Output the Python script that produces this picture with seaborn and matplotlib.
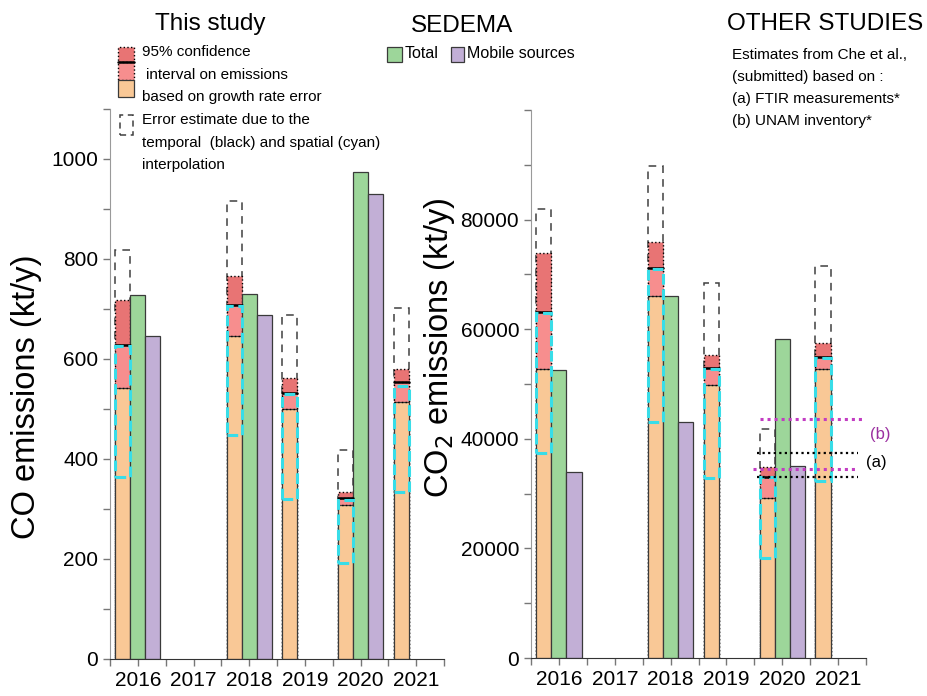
import numpy as np
import pandas as pd
import matplotlib
matplotlib.use("Agg")
import matplotlib.pyplot as plt
from matplotlib.patches import Rectangle
from matplotlib.ticker import MultipleLocator
import seaborn as sns

# ---- data -------------------------------------------------------------
study_years = [2016, 2018, 2019, 2020, 2021]
sedema_years = [2016, 2018, 2020]

# CO (kt/y) - this study
co_low = [542, 647, 500, 309, 515]          # lower bound of 95% CI
co_mid = [629, 709, 532, 323, 554]          # central estimate
co_high = [719, 766, 563, 335, 580]         # upper bound of 95% CI
co_temporal_high = [819, 916, 689, 418, 702]
co_spatial_low = [365, 448, 321, 193, 335]
co_spatial_high = [627, 707, 530, 319, 546]
# CO (kt/y) - SEDEMA inventory
co_total = [729, 730, 975]
co_mobile = [647, 689, 930]

# CO2 (kt/y) - this study
co2_low = [52700, 66000, 49750, 29200, 52700]
co2_mid = [63200, 71150, 53000, 33100, 54900]
co2_high = [73900, 75850, 55300, 34800, 57400]
co2_temporal_high = [82000, 89750, 68350, 41700, 71450]
co2_spatial_low = [37450, 43050, 32900, 18250, 32250]
co2_spatial_high = [63000, 71000, 52800, 33000, 54800]
# CO2 (kt/y) - SEDEMA inventory
co2_total = [52500, 66100, 58200]
co2_mobile = [33900, 43100, 35100]

# CO2 (kt/y) - Che et al. ranges
ftir_range = [33050, 37450]
unam_range = [34500, 43700]

year_labels = ["2016", "2017", "2018", "2019", "2020", "2021"]

# ---- style ------------------------------------------------------------
ORANGE = "#F9C896"
PINK = "#F78E8E"
RED = "#E87474"
GREEN = "#9DD69A"
PURPLE = "#C2AFD6"
CYAN = "#38DDE8"
MAGENTA = "#C23CC2"
LEVELS = ["This study", "Total", "Mobile sources"]
GROUP_W = 0.81
BW = GROUP_W / 3

sns.set_style("ticks")
plt.rcParams["font.family"] = ["Liberation Sans", "DejaVu Sans"]
plt.rcParams["text.color"] = "black"
plt.rcParams["axes.labelcolor"] = "black"

W, H = 928, 696
fig = plt.figure(figsize=(W / 100, H / 100), dpi=100)


def fx(px):
    return px / W


def fy(py):
    return 1 - py / H


def study_layer(ax, values, color, **kw):
    df = pd.DataFrame({"year": study_years, "value": values, "series": "This study"})
    sns.barplot(data=df, x="year", y="value", hue="series", hue_order=LEVELS,
                palette={"This study": color, "Total": GREEN, "Mobile sources": PURPLE},
                native_scale=True, width=GROUP_W, dodge=True, errorbar=None,
                saturation=1, legend=False, ax=ax, **kw)


def panel(ax, low, mid, high, t_high, s_low, s_high, total, mobile):
    # upper part of the CI (dark red), then pink down to the central value
    study_layer(ax, high, RED, edgecolor="black", linewidth=1.0, linestyle=":")
    study_layer(ax, mid, PINK, edgecolor="black", linewidth=1.0, linestyle=":")
    # growth-rate lower bound together with the SEDEMA inventory bars
    df = pd.concat([
        pd.DataFrame({"year": study_years, "value": low, "series": "This study"}),
        pd.DataFrame({"year": sedema_years, "value": total, "series": "Total"}),
        pd.DataFrame({"year": sedema_years, "value": mobile, "series": "Mobile sources"}),
    ], ignore_index=True)
    sns.barplot(data=df, x="year", y="value", hue="series", hue_order=LEVELS,
                palette={"This study": ORANGE, "Total": GREEN, "Mobile sources": PURPLE},
                native_scale=True, width=GROUP_W, dodge=True, errorbar=None,
                saturation=1, legend=False, ax=ax, edgecolor="#3a3a3a", linewidth=0.9)

    for yr, lo, m, th, sl, sh in zip(study_years, low, mid, t_high, s_low, s_high):
        x0 = yr - 1.5 * BW
        ax.plot([x0, x0 + BW], [lo, lo], color="black", lw=1.0, ls=":", zorder=3)
        ax.plot([x0, x0 + BW], [m, m], color="black", lw=1.8, zorder=3)
        # temporal interpolation error (black dashed box)
        ax.add_patch(Rectangle((x0, m), BW, th - m, fill=False, ec="#404040",
                               lw=1.1, ls=(0, (5, 4)), zorder=0.5))
        # spatial interpolation error (cyan dashed box)
        ax.add_patch(Rectangle((x0, sl), BW, sh - sl, fill=False, ec=CYAN,
                               lw=2.2, ls=(0, (3.5, 1.5)), zorder=4))

    ax.set_xlim(2015.5, 2021.5)
    ax.set_xticks(range(2016, 2022), labels=year_labels)
    ax.set_xticks(np.arange(2015.5, 2022, 1.0), minor=True)
    ax.set_xlabel("")
    for s in ("top", "right"):
        ax.spines[s].set_visible(False)
    ax.spines["left"].set_color("#9a9a9a")
    ax.spines["bottom"].set_color("#333333")
    ax.tick_params(which="both", direction="out", length=5, width=1, colors="#777777",
                   labelcolor="black", labelsize=15)


# ---- CO panel ---------------------------------------------------------
ax1 = fig.add_axes([fx(110), 37 / H, 334 / W, 550 / H])
panel(ax1, co_low, co_mid, co_high, co_temporal_high, co_spatial_low, co_spatial_high,
      co_total, co_mobile)
ax1.set_ylim(0, 1100)
ax1.set_yticks(range(0, 1001, 200))
ax1.yaxis.set_minor_locator(MultipleLocator(100))
ax1.set_ylabel("CO emissions (kt/y)", fontsize=23.5)
ax1.yaxis.set_label_coords(-0.205, 0.476)

# ---- CO2 panel --------------------------------------------------------
ax2 = fig.add_axes([fx(531), 38 / H, 335 / W, 548 / H])
panel(ax2, co2_low, co2_mid, co2_high, co2_temporal_high, co2_spatial_low, co2_spatial_high,
      co2_total, co2_mobile)
ax2.set_ylim(0, 100000)
ax2.set_yticks(range(0, 80001, 20000))
ax2.yaxis.set_minor_locator(MultipleLocator(10000))
ax2.set_ylabel("CO$_2$ emissions (kt/y)", fontsize=23.5)
ax2.yaxis.set_label_coords(-0.22, 0.566)

# Che et al. estimates
ax2.plot([2019.60, 2021.43], [unam_range[1]] * 2, color=MAGENTA, lw=2.2, ls=(0, (1, 1.3)), zorder=5)
ax2.plot([2019.48, 2021.32], [unam_range[0]] * 2, color=MAGENTA, lw=2.2, ls=(0, (1, 1.3)), zorder=5)
ax2.plot([2019.55, 2021.36], [ftir_range[1]] * 2, color="black", lw=1.6, ls=(0, (1, 1.5)), zorder=5)
ax2.plot([2019.55, 2021.36], [ftir_range[0]] * 2, color="black", lw=1.6, ls=(0, (1, 1.5)), zorder=5)
ax2.text(2021.57, 40800, "(b)", color="#9B2FA0", fontsize=12, va="center", ha="left")
ax2.text(2021.50, 35700, "(a)", color="black", fontsize=12, va="center", ha="left")

# ---- headers and legends ---------------------------------------------
fig.text(fx(210), fy(24), "This study", fontsize=17.5, ha="center", va="center")
fig.text(fx(462), fy(26), "SEDEMA", fontsize=17.5, ha="center", va="center")
fig.text(fx(825), fy(24), "OTHER STUDIES", fontsize=17.5, ha="center", va="center")

def fig_patch(x0, y0, x1, y1, **kw):
    fig.add_artist(Rectangle((fx(x0), fy(y1)), (x1 - x0) / W, (y1 - y0) / H,
                             transform=fig.transFigure, **kw))

fig_patch(118, 47, 134, 62, fc=RED, ec="black", lw=1, ls=":")
fig_patch(118, 62, 134, 80, fc=PINK, ec="black", lw=1, ls=":")
fig_patch(118, 80, 134, 97, fc=ORANGE, ec="#3a3a3a", lw=0.9)
fig.add_artist(plt.Line2D([fx(118), fx(134)], [fy(62), fy(62)], color="black", lw=1.8,
                          transform=fig.transFigure))
fig_patch(120, 115, 133, 135, fill=False, ec="#404040", lw=1.1, ls=(0, (4, 3)))

legend_lines = [(142, 52, "95% confidence"), (146, 75, "interval on emissions"),
                (142, 97, "based on growth rate error"), (142, 120, "Error estimate due to the"),
                (142, 143, "temporal  (black) and spatial (cyan)"), (142, 165, "interpolation")]
for x, y, s in legend_lines:
    fig.text(fx(x), fy(y), s, fontsize=11, ha="left", va="center")

fig_patch(387, 47, 402, 62, fc=GREEN, ec="#3a3a3a", lw=0.9)
fig.text(fx(405), fy(54), "Total", fontsize=11.5, ha="left", va="center")
fig_patch(451, 47, 464, 62, fc=PURPLE, ec="#3a3a3a", lw=0.9)
fig.text(fx(467), fy(54), "Mobile sources", fontsize=11.5, ha="left", va="center")

other_lines = ["Estimates from Che et al.,", "(submitted) based on :",
               "(a) FTIR measurements*", "(b) UNAM inventory*"]
for i, s in enumerate(other_lines):
    fig.text(fx(732), fy(55 + 22 * i), s, fontsize=11, ha="left", va="center")

fig.savefig("out.png", dpi=100)
